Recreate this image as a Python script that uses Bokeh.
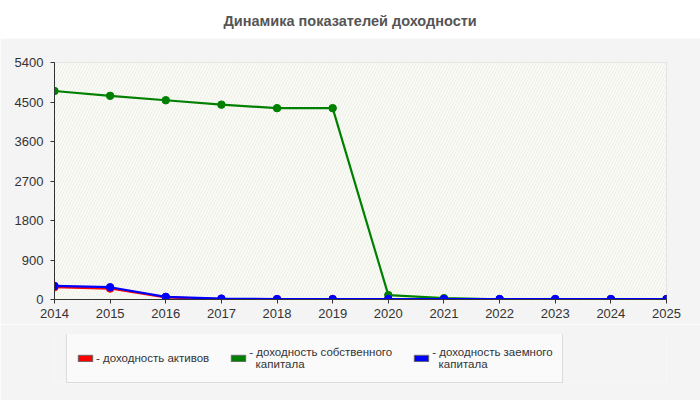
from bokeh.plotting import figure
from bokeh.layouts import column
from bokeh.models import (FixedTicker, Legend, LegendItem, BoxAnnotation,
                          ColumnDataSource, Range1d)
from bokeh.embed import file_html
from bokeh.resources import INLINE

years = [2014, 2015, 2016, 2017, 2018, 2019, 2020, 2021, 2022, 2023, 2024, 2025]
assets = [280, 250, 50, 10, 5, 5, 5, 5, 5, 5, 5, 5]
equity = [4750, 4640, 4540, 4440, 4360, 4360, 100, 30, 5, 5, 5, 5]
borrowed = [310, 280, 60, 20, 10, 10, 10, 10, 10, 10, 10, 10]
y_ticks = [0, 900, 1800, 2700, 3600, 4500, 5400]
title_text = "Динамика показателей доходности"
labels = ["- доходность активов",
          "- доходность собственного\n  капитала",
          "- доходность заемного\n  капитала"]
colors = ["#ff0000", "#008000", "#0000ff"]
FONT = "Liberation Sans"
PANEL = "#f4f4f4"
BL, BR = 54, 34

# ---- title strip
t = figure(width=700, height=38, output_backend="svg", toolbar_location=None,
           x_axis_location=None, y_axis_location=None, min_border=0,
           min_border_top=28, min_border_left=BL, min_border_right=BR,
           border_fill_color="white", background_fill_color="white",
           outline_line_color=None, title=title_text)
t.title.align = "left"
t.title.text_font = FONT
t.title.text_font_size = "14.5px"
t.title.text_font_style = "bold"
t.title.text_color = "#555555"
t.title.offset = 169
t.title.standoff = 0
t.grid.visible = False

# ---- main chart
p = figure(width=700, height=286, output_backend="svg", toolbar_location=None,
           x_range=Range1d(2014, 2025), y_range=Range1d(0, 5400),
           min_border_left=BL, min_border_right=BR, min_border_top=24,
           min_border_bottom=25,
           border_fill_color=PANEL, background_fill_color="#fbfbf6",
           outline_line_color="#dddddd")

p.add_layout(BoxAnnotation(left=2014, right=2025, bottom=0, top=5400,
                           fill_color="#fbfbf6", fill_alpha=1.0,
                           line_color=None, hatch_pattern="/",
                           hatch_color="#e8e8e2", hatch_scale=6,
                           hatch_weight=0.7, level="underlay"))

for ax in (p.xaxis, p.yaxis):
    ax.major_label_text_font = FONT
    ax.major_label_text_font_size = "13px"
    ax.major_label_text_color = "#333333"
    ax.axis_line_color = "#333333"
    ax.major_tick_line_color = "#333333"
    ax.major_tick_out = 4
    ax.major_tick_in = 0
    ax.minor_tick_line_color = None
p.xaxis.ticker = FixedTicker(ticks=years)
p.yaxis.ticker = FixedTicker(ticks=y_ticks)
p.xaxis.major_label_standoff = 5
p.yaxis.major_label_standoff = 7
p.grid.grid_line_color = "#dddddd"
p.grid.grid_line_dash = "4 3"

src = ColumnDataSource(dict(x=years, a=assets, e=equity, b=borrowed))
for key, col in zip(["a", "e", "b"], colors):
    p.line("x", key, source=src, line_color=col, line_width=2.2)
    p.scatter("x", key, source=src, size=7.5, fill_color=col, line_color=col)

# ---- legend strip (swatch renderers lie outside its ranges, only the legend shows)
lg = figure(width=700, height=76, output_backend="svg", toolbar_location=None,
            x_axis_location=None, y_axis_location=None,
            x_range=Range1d(0, 1), y_range=Range1d(0, 1),
            min_border_left=BL, min_border_right=BR, min_border_top=10,
            min_border_bottom=17,
            border_fill_color=PANEL, background_fill_color=PANEL,
            outline_line_color=None)
lg.grid.visible = False
items = []
for key, col, lab in zip(["a", "e", "b"], colors, labels):
    sw = lg.rect("x", key, source=src, width=1, height=1, fill_color=col,
                 line_color="#666666", line_width=1)
    items.append(LegendItem(label=lab, renderers=[sw]))

leg = Legend(items=items, orientation="horizontal", location=(12, 0),
             margin=0, glyph_width=18, glyph_height=8, label_standoff=2,
             spacing=20, padding=9, label_height=31, label_text_font=FONT,
             label_text_font_size="11.5px", label_text_color="#333333",
             background_fill_color="#fafafa", background_fill_alpha=1.0,
             border_line_color="#bbbbbb", label_text_line_height=1.05)
lg.add_layout(leg, "center")

layout = column(t, p, lg, spacing=0)
open("out.html", "w").write(file_html(layout, INLINE))
